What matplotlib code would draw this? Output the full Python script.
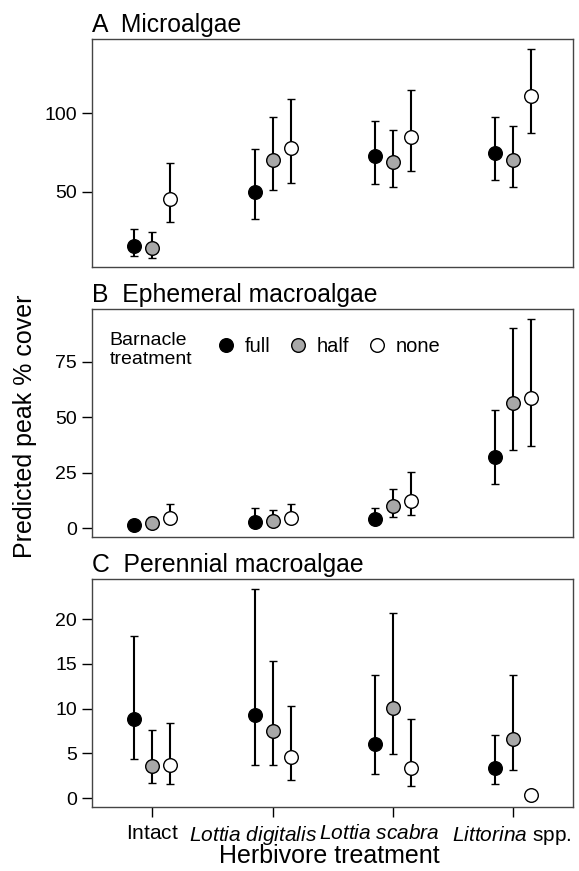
import numpy as np
import matplotlib
matplotlib.use("Agg")
import matplotlib.pyplot as plt
import matplotlib.transforms as mtransforms
from matplotlib.lines import Line2D

plt.rcParams['font.family'] = ['Liberation Sans', 'DejaVu Sans']
plt.rcParams['mathtext.fontset'] = 'custom'
plt.rcParams['mathtext.rm'] = 'Liberation Sans'
plt.rcParams['mathtext.it'] = 'Liberation Sans:italic'

# herbivore treatments (x axis)
herbivores = [r'$\mathrm{Intact}$', r'$\it{Lottia\ digitalis}$', r'$\it{Lottia\ scabra}$',
              r'$\it{Littorina}\ \mathrm{spp.}$']
barnacle = ['full', 'half', 'none']
colours = ['black', '#a8a8a8', 'white']

# A Microalgae: rows = barnacle (full, half, none), cols = herbivore
micro_mean = [[15.3, 50.0, 72.4, 74.7],
              [13.8, 70.4, 69.0, 69.8],
              [45.5, 77.5, 84.9, 110.7]]
micro_lo = [[8.9, 32.6, 54.7, 57.3],
            [7.9, 50.9, 53.2, 53.2],
            [30.6, 55.4, 63.0, 87.0]]
micro_hi = [[26.2, 77.1, 95.1, 97.5],
            [24.5, 97.5, 89.4, 91.8],
            [68.1, 109.2, 114.5, 141.1]]

# B Ephemeral macroalgae
ephem_mean = [[1.5, 3.0, 4.1, 32.2],
              [2.3, 3.3, 9.9, 56.3],
              [4.8, 4.8, 12.5, 58.9]]
ephem_lo = [[0.8, 1.5, 2.3, 19.9],
            [0.8, 1.8, 5.3, 35.2],
            [3.0, 3.0, 6.0, 37.2]]
ephem_hi = [[2.3, 9.0, 9.0, 53.5],
            [5.3, 8.1, 17.8, 90.4],
            [10.8, 11.1, 25.3, 94.4]]

# C Perennial macroalgae
peren_mean = [[8.83, 9.31, 6.07, 3.39],
              [3.54, 7.49, 10.02, 6.59],
              [3.65, 4.58, 3.39, 0.34]]
peren_lo = [[4.36, 3.72, 2.72, 1.56],
            [1.68, 3.65, 4.88, 3.17],
            [1.60, 1.97, 1.30, 0.34]]
peren_hi = [[18.06, 23.35, 13.7, 7.08],
            [7.56, 15.31, 20.67, 13.7],
            [8.34, 10.32, 8.83, 0.34]]

panels = [
    ('A  Microalgae', micro_mean, micro_lo, micro_hi, (1.9, 147.4), [50, 100]),
    ('B  Ephemeral macroalgae', ephem_mean, ephem_lo, ephem_hi, (-3.8, 99.1), [0, 25, 50, 75]),
    ('C  Perennial macroalgae', peren_mean, peren_lo, peren_hi, (-1.0, 24.5), [0, 5, 10, 15, 20]),
]

fig = plt.figure(figsize=(5.79, 8.71), dpi=100)
bottoms = [0.6935, 0.3838, 0.0735]
xpos = np.arange(1, 5)
offs = [-0.15, 0, 0.15]

axes = []
for (title, mean, lo, hi, ylim, yt), b in zip(panels, bottoms):
    ax = fig.add_axes([0.159, b, 0.8314, 0.262])
    for k in range(3):
        m = np.array(mean[k])
        e = [m - np.array(lo[k]), np.array(hi[k]) - m]
        ax.errorbar(xpos + offs[k], m, yerr=e, fmt='o', ms=9.8, mfc=colours[k],
                    mec='black', mew=1.0, ecolor='black', elinewidth=1.5,
                    capsize=2.7, capthick=1.5)
    ax.set_xlim(0.5, 4.5)
    ax.set_ylim(*ylim)
    ax.set_yticks(yt)
    ax.tick_params(axis='y', direction='out', length=7.2, width=1, labelsize=14, pad=3.5)
    for s in ax.spines.values():
        s.set_color('#444444')
        s.set_linewidth(1)
    ax.text(0, 1.03, title, transform=ax.transAxes, fontsize=17.8, ha='left', va='baseline')
    axes.append(ax)

for ax in axes[:2]:
    ax.set_xticks([])

axc = axes[2]
axc.set_xticks(xpos)
axc.set_xticklabels(herbivores)
axc.tick_params(axis='x', direction='out', length=7.2, width=1, labelsize=15, pad=5)
# labels in the original sit slightly left of their ticks
shifts = [0, -14.4, -9.4, -1.0]
for lab, dx in zip(axc.get_xticklabels(), shifts):
    lab.set_transform(lab.get_transform() +
                      mtransforms.ScaledTranslation(dx / 72, 0, fig.dpi_scale_trans))

# legend in panel B
axb = axes[1]
axb.text(0.037, 0.818, 'Barnacle\ntreatment', transform=axb.transAxes, fontsize=14,
         ha='left', va='center', linespacing=1.15)
handles = [Line2D([], [], ls='none', marker='o', ms=9.8, mfc=c, mec='black', mew=1.0)
           for c in colours]
axb.legend(handles, barnacle, loc='center left', bbox_to_anchor=(0.257, 0.832), ncol=3,
           frameon=False, fontsize=14.5, handletextpad=0.45, columnspacing=0.85,
           handlelength=1.0, borderaxespad=0, borderpad=0)

fig.text(0.043, 0.511, 'Predicted peak % cover', rotation=90, fontsize=18,
         ha='center', va='center')
fig.text(0.568, 0.017, 'Herbivore treatment', fontsize=18, ha='center', va='center')

fig.savefig('out.png', dpi=100, facecolor='white')
